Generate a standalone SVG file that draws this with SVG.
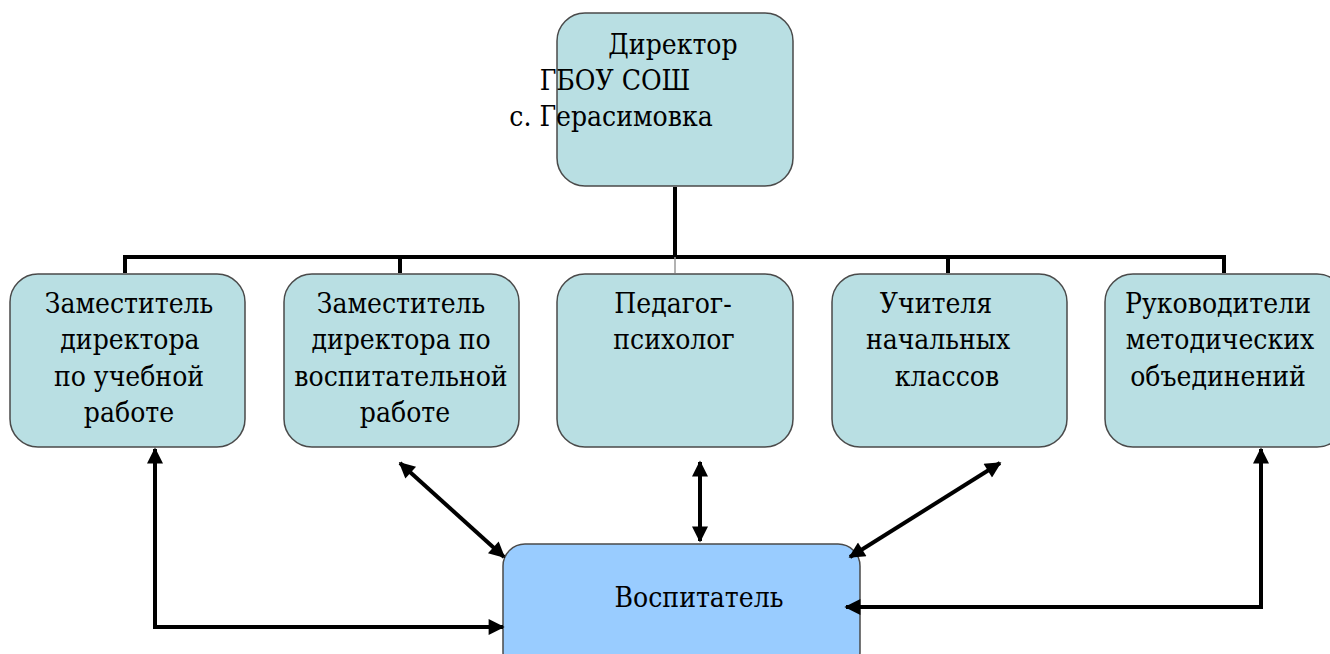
<svg xmlns="http://www.w3.org/2000/svg" width="1330" height="654" viewBox="0 0 1330 654">
<style>
.box{fill:#b9dfe3;stroke:#4a4a4a;stroke-width:1.5}
.vos{fill:#99ccff;stroke:#4a4a4a;stroke-width:1.5}
text{font-family:'DejaVu Serif Condensed','DejaVu Serif',serif;font-stretch:condensed;font-size:28px;fill:#000;text-anchor:middle}
.ln{fill:none;stroke:#000;stroke-width:4}
.ar{fill:none;stroke:#000;stroke-width:4;marker-start:url(#ah);marker-end:url(#ah)}
</style>
<defs>
<marker id="ah" viewBox="0 0 10 10" refX="9" refY="5" markerWidth="18" markerHeight="16" markerUnits="userSpaceOnUse" orient="auto-start-reverse">
<path d="M0,0 L10,5 L0,10 Z" fill="#000"/>
</marker>
</defs>
<g id="director">
<rect class="box" x="557" y="13" width="236" height="173" rx="28"/>
<text x="673" y="54">Директор</text>
<text x="615" y="90">ГБОУ СОШ</text>
<text x="611" y="126">с. Герасимовка</text>
</g>
<g id="zam-ucheb">
<rect class="box" x="10" y="274" width="235" height="173" rx="28"/>
<text x="129" y="313">Заместитель</text>
<text x="130" y="349">директора</text>
<text x="129" y="386">по учебной</text>
<text x="129" y="422">работе</text>
</g>
<g id="zam-vosp">
<rect class="box" x="284" y="274" width="235" height="173" rx="28"/>
<text x="401" y="313">Заместитель</text>
<text x="401" y="349">директора по</text>
<text x="401" y="386">воспитательной</text>
<text x="405" y="422">работе</text>
</g>
<g id="pedagog">
<rect class="box" x="557" y="274" width="236" height="173" rx="28"/>
<text x="673" y="313">Педагог-</text>
<text x="674" y="349">психолог</text>
</g>
<g id="uchitelya">
<rect class="box" x="832" y="274" width="235" height="173" rx="28"/>
<text x="936" y="313">Учителя</text>
<text x="938" y="349">начальных</text>
<text x="947" y="386">классов</text>
</g>
<g id="rukovoditeli">
<rect class="box" x="1105" y="274" width="240" height="173" rx="28"/>
<text x="1218" y="313">Руководители</text>
<text x="1220" y="349">методических</text>
<text x="1218" y="386">объединений</text>
</g>
<g id="vospitatel">
<rect class="vos" x="503" y="544" width="357" height="130" rx="22"/>
<text x="699" y="607">Воспитатель</text>
</g>
<g id="connectors">
<path class="ln" d="M675,187 V257 M123,257 H1226 M125,257 V273 M400,257 V273 M948,257 V273 M1224,257 V273"/>
<path d="M675,257 V273" stroke="#999" stroke-width="1.5"/>
<path class="ar" d="M155,449 V627 H503"/>
<path class="ar" d="M400,463 L504,557"/>
<path class="ar" d="M700,462 V541"/>
<path class="ar" d="M1000,463 L850,557"/>
<path class="ar" d="M1261,449 V607 H846"/>
</g>
</svg>
